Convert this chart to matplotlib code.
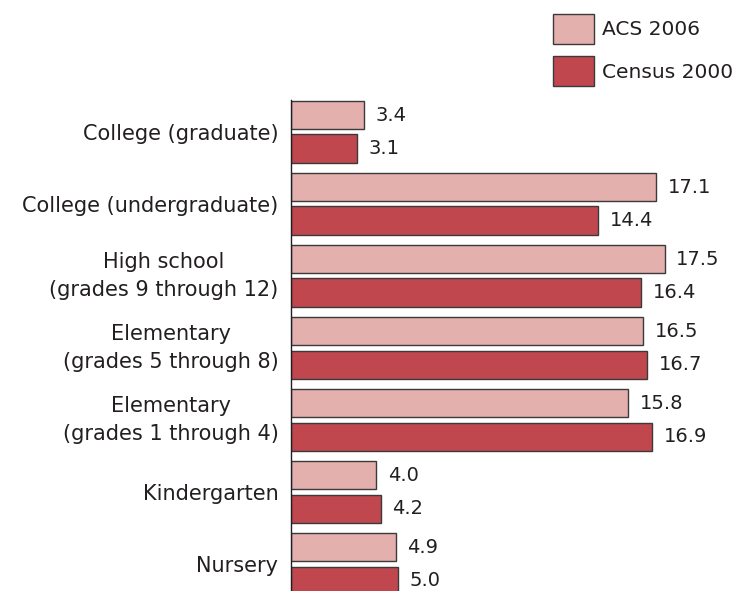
import matplotlib.pyplot as plt
import numpy as np
from matplotlib.patches import Patch

plt.rcParams['font.family'] = ['DejaVu Sans']

categories = ['Nursery', 'Kindergarten', 'Elementary\n(grades 1 through 4)',
              'Elementary\n(grades 5 through 8)', 'High school\n(grades 9 through 12)',
              'College (undergraduate)', 'College (graduate)']
acs2006 = [4.9, 4.0, 15.8, 16.5, 17.5, 17.1, 3.4]
census2000 = [5.0, 4.2, 16.9, 16.7, 16.4, 14.4, 3.1]

acs_color = '#e4b0ae'
census_color = '#c1474f'
edge = '#3a3a3a'
txt = '#231f20'

fig = plt.figure(figsize=(7.36, 5.91), dpi=100)
ax = fig.add_axes([291 / 736, 0.0, 0.58, 491 / 591])

y = np.arange(len(categories))
h = 0.40
off = 0.235

ax.barh(y + off, acs2006, h, color=acs_color, edgecolor=edge, linewidth=1)
ax.barh(y - off, census2000, h, color=census_color, edgecolor=edge, linewidth=1)

for yi, v in zip(y, acs2006):
    ax.text(v + 0.55, yi + off, f'{v:.1f}', va='center', ha='left', fontsize=14, color=txt)
for yi, v in zip(y, census2000):
    ax.text(v + 0.55, yi - off, f'{v:.1f}', va='center', ha='left', fontsize=14, color=txt)

ax.set_xlim(0, 20)
ax.set_ylim(-0.375, 6.444)
ax.set_yticks(y)
ax.set_yticklabels(categories, fontsize=15, color=txt)
for lab in ax.get_yticklabels():
    lab.set_multialignment('center')
    if '\n' in lab.get_text():
        lab.set_linespacing(1.55)
        lab.set_verticalalignment('center')
ax.tick_params(axis='y', length=0, pad=9)
ax.set_xticks([])
for s in ['top', 'right', 'bottom']:
    ax.spines[s].set_visible(False)
ax.spines['left'].set_color(txt)
ax.spines['left'].set_linewidth(1)

handles = [Patch(facecolor=acs_color, edgecolor=edge, linewidth=1),
           Patch(facecolor=census_color, edgecolor=edge, linewidth=1)]
fig.legend(handles, ['ACS 2006', 'Census 2000'], loc='upper left',
           bbox_to_anchor=(553 / 736, 1 - 14 / 591), frameon=False, fontsize=14.5,
           handlelength=2.05, handleheight=1.92, labelspacing=0.6, borderpad=0,
           borderaxespad=0, handletextpad=0.4, labelcolor=txt)

fig.savefig('out.png', dpi=100)
